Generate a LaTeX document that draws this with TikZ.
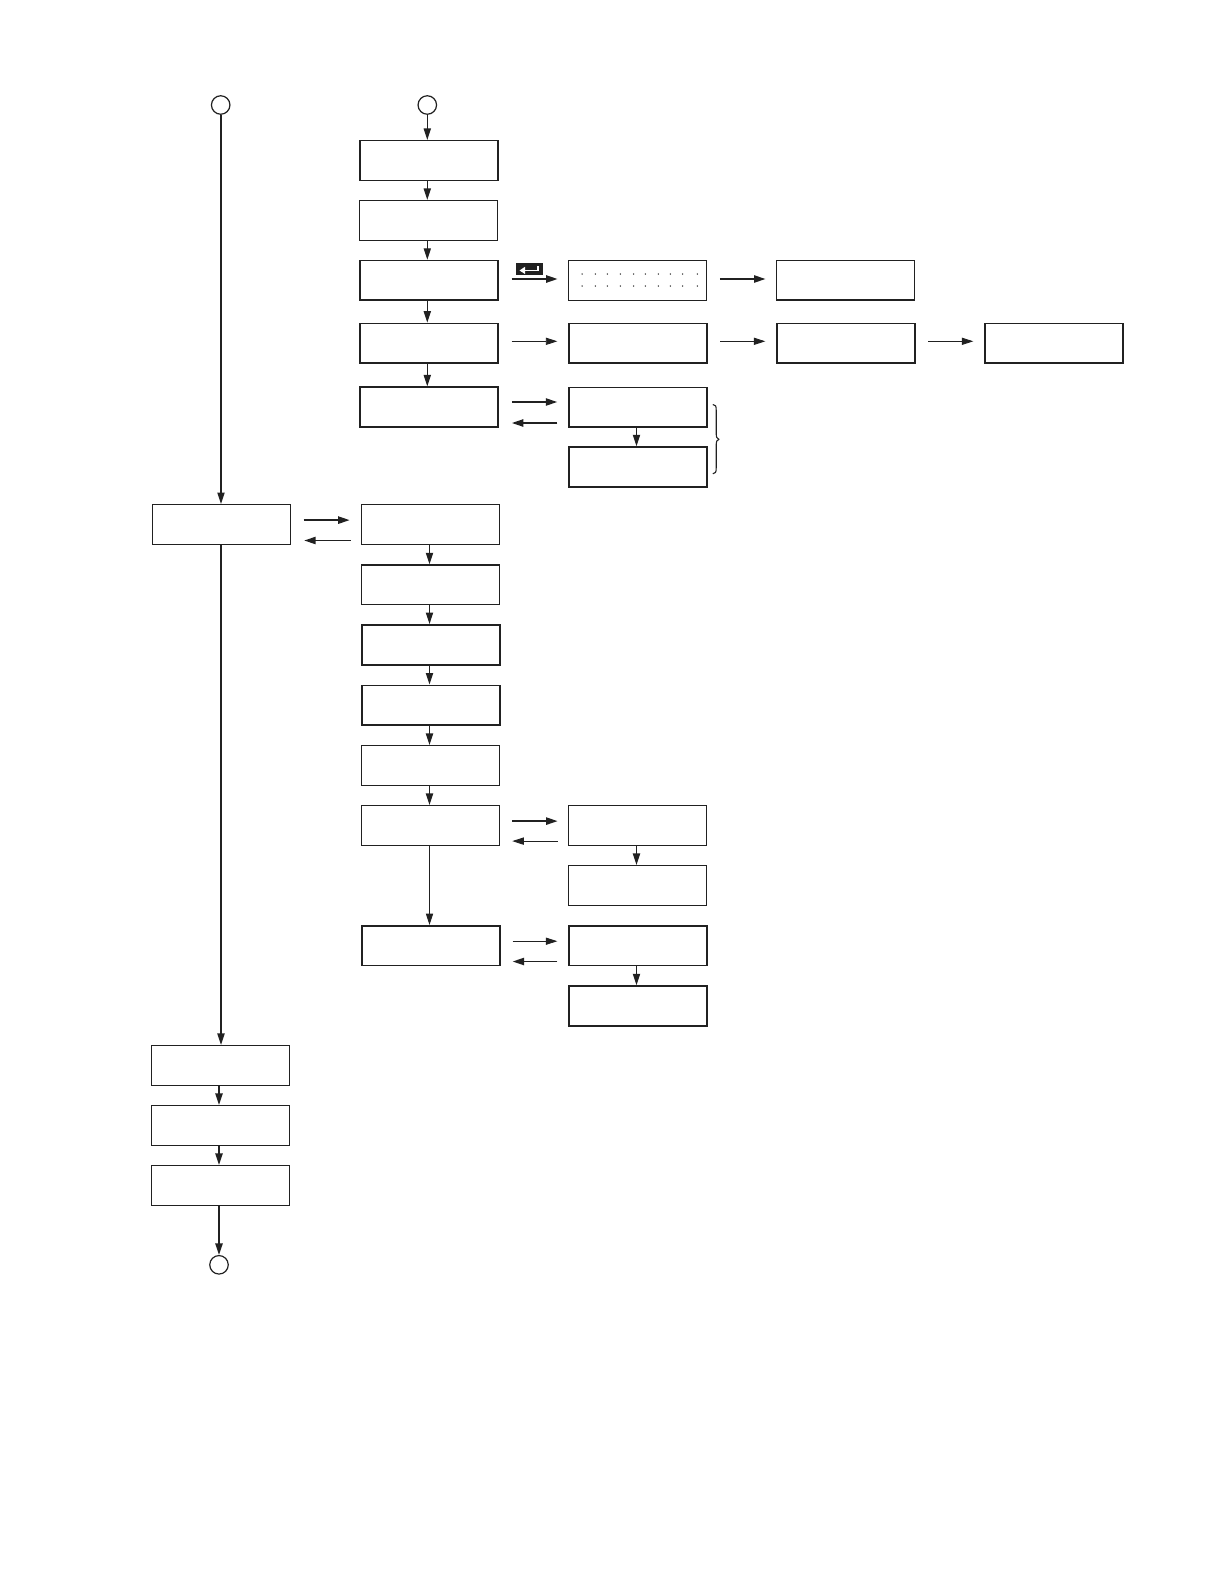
\documentclass[tikz,border=0pt]{standalone}
\usetikzlibrary{arrows.meta}
\definecolor{ink}{gray}{0.13}
\tikzset{
 x=1pt,y=-1pt,
 bx/.style={draw=ink,fill=white,minimum width=138pt,minimum height=39.6pt,inner sep=0pt,line width=#1},
 bx/.default=1.5pt,
 circ/.style={draw=ink,circle,minimum size=18.5pt,inner sep=0pt,line width=1.2pt},
 arr/.style={draw=ink,line width=#1,-{Triangle[length=11.5pt,width=7.2pt,fill=ink]}},
 arr/.default=1.2pt,
 dot/.style={fill=ink,circle,inner sep=0pt,minimum size=1.5pt}
}
\begin{document}
\begin{tikzpicture}
\useasboundingbox (0,0) rectangle (1224,1584);
% axis coordinates for vertical connectors
\coordinate (xL) at (221,0);
\coordinate (xLL) at (219,0);
\coordinate (xA) at (427.3,0);
\coordinate (xB) at (429.5,0);
\coordinate (xC) at (636.5,0);
% circles
\node[circ] (c1) at (220.7,105) {};
\node[circ] (c2) at (427.3,105) {};
\node[circ] (c3) at (219,1264.8) {};
% column A
\node[bx] (a1) at (428.8,160.5) {};
\node[bx=1.2pt] (a2) at (428.8,220.3) {};
\node[bx] (a3) at (428.8,280.3) {};
\node[bx=1.7pt] (a4) at (428.8,343.3) {};
\node[bx=2pt] (a5) at (428.8,407.2) {};
% column C upper
\node[bx=1.1pt] (c3a) at (637.7,280.3) {};
\node[bx=1.7pt] (c4a) at (637.7,343.3) {};
\node[bx=1.8pt] (c5a) at (637.7,407.2) {};
\node[bx=1.8pt] (c6a) at (637.7,467) {};
% column D, E
\node[bx=1.3pt] (d3) at (845.7,280.3) {};
\node[bx=1.8pt] (d4) at (845.7,343.3) {};
\node[bx=1.8pt] (e4) at (1053.7,343.3) {};
% left
\node[bx=1pt] (l1) at (221.7,524.3) {};
\node[bx=1.2pt] (l2) at (220.7,1065.3) {};
\node[bx=1.1pt] (l3) at (220.7,1125.3) {};
\node[bx=1.1pt] (l4) at (220.7,1185.3) {};
% column B
\node[bx=1pt] (b1) at (430.7,524.3) {};
\node[bx=1.4pt] (b2) at (430.7,584.8) {};
\node[bx=1.8pt] (b3) at (430.7,644.8) {};
\node[bx=1.6pt] (b4) at (430.7,705.1) {};
\node[bx=1.1pt] (b5) at (430.7,765.3) {};
\node[bx=1.1pt] (b6) at (430.7,825.3) {};
\node[bx=1.8pt] (b7) at (430.7,945.7) {};
% column C lower
\node[bx=1.1pt] (g1) at (637.7,825.3) {};
\node[bx=1.1pt] (g2) at (637.7,885.3) {};
\node[bx=1.8pt] (g3) at (637.7,945.7) {};
\node[bx=1.8pt] (g4) at (637.7,1006) {};
% left long connectors
\draw[arr=1.5pt] (c1.south -| xL) -- (l1.north -| xL);
\draw[arr=1.5pt] (l1.south -| xL) -- (l2.north -| xL);
\draw[arr=1.7pt] (l2.south -| xLL) -- (l3.north -| xLL);
\draw[arr=1.7pt] (l3.south -| xLL) -- (l4.north -| xLL);
\draw[arr=1.7pt] (l4.south -| xLL) -- (c3.north -| xLL);
% column A verticals
\draw[arr] (c2.south -| xA) -- (a1.north -| xA);
\draw[arr] (a1.south -| xA) -- (a2.north -| xA);
\draw[arr] (a2.south -| xA) -- (a3.north -| xA);
\draw[arr] (a3.south -| xA) -- (a4.north -| xA);
\draw[arr] (a4.south -| xA) -- (a5.north -| xA);
% column B verticals
\draw[arr] (b1.south -| xB) -- (b2.north -| xB);
\draw[arr] (b2.south -| xB) -- (b3.north -| xB);
\draw[arr] (b3.south -| xB) -- (b4.north -| xB);
\draw[arr] (b4.south -| xB) -- (b5.north -| xB);
\draw[arr] (b5.south -| xB) -- (b6.north -| xB);
\draw[arr=1pt] (b6.south -| xB) -- (b7.north -| xB);
% column C verticals
\draw[arr] (c5a.south -| xC) -- (c6a.north -| xC);
\draw[arr] (g1.south -| xC) -- (g2.north -| xC);
\draw[arr] (g3.south -| xC) -- (g4.north -| xC);
% horizontal connectors
\draw[arr=1.8pt] ([shift={(13,-1.3)}]a3.east) -- ([shift={(-10.5,-1.3)}]c3a.west);
\draw[arr=0.8pt] ([shift={(13,-2)}]a4.east) -- ([shift={(-10.5,-2)}]c4a.west);
\draw[arr=1.8pt] ([shift={(13,-5.2)}]a5.east) -- ([shift={(-10.5,-5.2)}]c5a.west);
\draw[arr=1.8pt] ([shift={(-10.5,15.8)}]c5a.west) -- ([shift={(13,15.8)}]a5.east);
\draw[arr=1.8pt] ([shift={(12.5,-1.3)}]c3a.east) -- ([shift={(-10.5,-1.3)}]d3.west);
\draw[arr=0.8pt] ([shift={(12.5,-2)}]c4a.east) -- ([shift={(-10.5,-2)}]d4.west);
\draw[arr=0.8pt] ([shift={(12.5,-2)}]d4.east) -- ([shift={(-10.5,-2)}]e4.west);
\draw[arr=1.8pt] ([shift={(12.5,-4.2)}]l1.east) -- ([shift={(-11.5,-4.2)}]b1.west);
\draw[arr=1.8pt] ([shift={(-10.5,16.2)}]b1.west) -- ([shift={(13,16.2)}]l1.east);
\draw[arr=1.8pt] ([shift={(12,-4.2)}]b6.east) -- ([shift={(-10.5,-4.2)}]g1.west);
\draw[arr=0.8pt] ([shift={(-10.5,15.8)}]g1.west) -- ([shift={(12,15.8)}]b6.east);
\draw[arr=0.8pt] ([shift={(12,-4.5)}]b7.east) -- ([shift={(-10.5,-4.5)}]g3.west);
\draw[arr=1.8pt] ([shift={(-10.5,15.8)}]g3.west) -- ([shift={(12,15.8)}]b7.east);
% dots
\foreach \x in {582,595.3,607.3,620.3,633.7,645.3,658.3,670.3,682.7,697.3}{
  \node[dot] at (\x,274) {};
  \node[dot] at (\x,286) {};
}
% return key
\fill[ink] (516,263.3) rectangle (543,274.7);
\draw[white,line width=1.6pt] (538,266) -- (538,270.5) -- (523,270.5);
\fill[white] (519.5,270.5) -- (525,266.8) -- (525,274) -- cycle;
% brace
\draw[ink,line width=1.1pt] (712.8,404.5) .. controls (715.5,404.5) and (716.2,406) .. (716.2,410)
  -- (716.2,433) .. controls (716.2,437) and (716.8,438.5) .. (718.8,439.3)
  .. controls (716.8,440) and (716.2,441.5) .. (716.2,445.5)
  -- (716.2,468) .. controls (716.2,472) and (715.5,473.8) .. (712.8,473.8);
\end{tikzpicture}
\end{document}
